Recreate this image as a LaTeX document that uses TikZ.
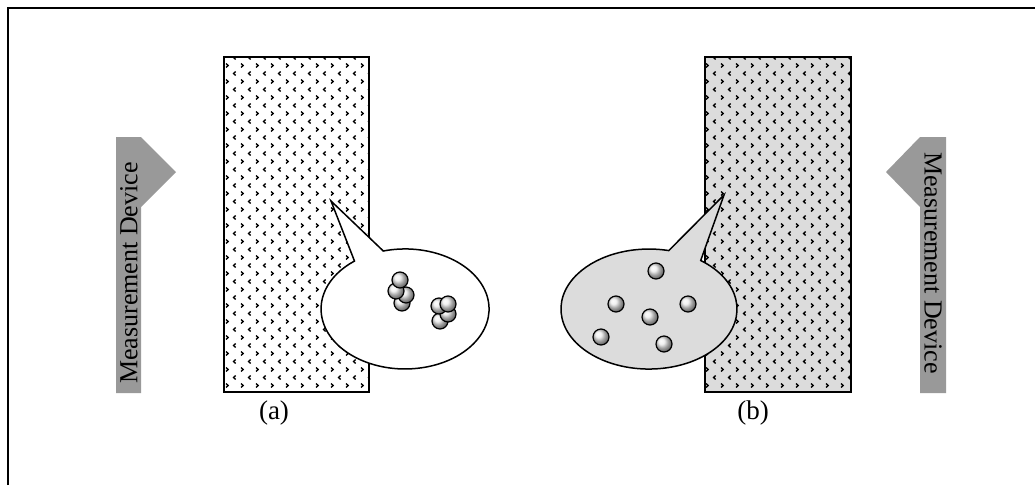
\documentclass[tikz,border=0pt]{standalone}
\usepackage{fontspec}
\setmainfont{Liberation Serif}
\usetikzlibrary{patterns,shadings}
\pgfdeclarepatternformonly{chev}{\pgfpoint{-1pt}{-1pt}}{\pgfpoint{16pt}{17pt}}{\pgfpoint{15pt}{16pt}}{%
  \pgfsetlinewidth{1.3pt}%
  \pgfpathmoveto{\pgfpoint{1pt}{1.5pt}}\pgfpathlineto{\pgfpoint{3.2pt}{3.5pt}}\pgfpathlineto{\pgfpoint{1pt}{5.5pt}}%
  \pgfpathmoveto{\pgfpoint{10.7pt}{9.5pt}}\pgfpathlineto{\pgfpoint{8.5pt}{11.5pt}}\pgfpathlineto{\pgfpoint{10.7pt}{13.5pt}}%
  \pgfusepath{stroke}}
\definecolor{devgray}{HTML}{999999}
\definecolor{lgray}{HTML}{DCDCDC}
\tikzset{
  wall/.style={line width=2pt},
  bubble/.style={draw=black, line width=1.5pt},
  ballst/.style={draw=black, line width=1.2pt, ball color=gray!15},
  devtext/.style={font=\fontsize{26}{28}\selectfont, inner sep=0pt},
  lbl/.style={font=\fontsize{27}{29}\selectfont, inner sep=0pt},
}
\newcommand{\bal}[2]{\shade[ballst] (#1,#2) circle[radius=8];}
\begin{document}
\begin{tikzpicture}[x=1pt,y=-1pt]
\useasboundingbox (0,0) rectangle (1035,485);
% frame
\draw[line width=1.5pt] (8,485) -- (8,8) -- (1035,8);
% measurement devices
\fill[devgray] (116,137) -- (141,137) -- (176,172) -- (141,207) -- (141,393) -- (116,393) -- cycle;
\node[devtext, rotate=90] (devL) at (129,273) {Measurement Device};
\fill[devgray] (946,137) -- (920,137) -- (886,172) -- (920,207) -- (920,393) -- (946,393) -- cycle;
\node[devtext, rotate=-90] (devR) at (933,263) {Measurement Device};
% walls
\fill[white] (224,57) rectangle (369,392);
\fill[pattern=chev] (224,57) rectangle (369,392);
\draw[wall] (224,57) rectangle (369,392);
\fill[lgray] (705,57) rectangle (851,392);
\fill[pattern=chev] (705,57) rectangle (851,392);
\draw[wall] (705,57) rectangle (851,392);
% left bubble
\filldraw[bubble, fill=white] (383.3,251) arc[start angle=-105, end angle=233, x radius=84, y radius=60] -- (331,201) -- cycle;
\bal{402}{303}\bal{406}{295}\bal{396}{291}\bal{400}{280}
\bal{440}{321}\bal{448}{314}\bal{439}{306}\bal{448}{304}
% right bubble
\filldraw[bubble, fill=lgray] (700.7,260.5) arc[start angle=-54, end angle=283, x radius=88, y radius=60] -- (724,195) -- cycle;
\bal{656}{271}\bal{616}{304}\bal{688}{304}\bal{650}{317}\bal{601}{337}\bal{664}{344}
% labels
\node[lbl] (la) at (274,413) {(a)};
\node[lbl] (lb) at (753,413) {(b)};
\end{tikzpicture}
\end{document}
